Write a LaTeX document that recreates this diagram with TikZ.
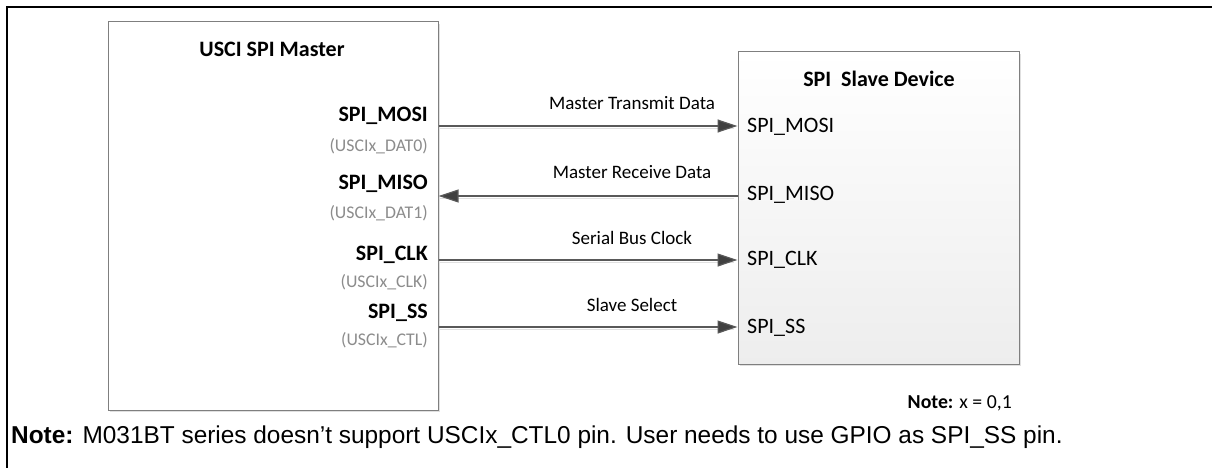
\documentclass[tikz,border=0pt]{standalone}
\usepackage{fontspec}
\setmainfont{Carlito}
\newfontfamily\arialfont{Liberation Sans}
\usetikzlibrary{arrows.meta,shadows}
\definecolor{boxline}{HTML}{7F7F7F}
\definecolor{arrowcol}{HTML}{404040}
\definecolor{pingray}{HTML}{8C8C8C}
\begin{document}
\begin{tikzpicture}[x=1pt,y=-1pt,
  masterbox/.style={draw=boxline,line width=1pt,fill=white,minimum width=330pt,minimum height=388pt,inner sep=0pt,drop shadow={shadow xshift=2pt,shadow yshift=-2pt,fill=black!12,opacity=1}},
  slavebox/.style={draw=boxline,line width=1pt,top color=white,bottom color=black!7,minimum width=281pt,minimum height=312pt,inner sep=0pt,drop shadow={shadow xshift=2pt,shadow yshift=-2pt,fill=black!12,opacity=1}},
  title/.style={font=\fontsize{22}{26}\selectfont\bfseries,inner sep=0pt},
  mpin/.style={font=\fontsize{22}{26}\selectfont\bfseries,anchor=east,inner sep=0pt},
  mpinsub/.style={font=\fontsize{17.8}{21}\selectfont,text=pingray,anchor=east,inner sep=0pt},
  spin/.style={font=\fontsize{22}{26}\selectfont,anchor=west,inner sep=0pt},
  siglabel/.style={font=\fontsize{19}{23}\selectfont,inner sep=0pt},
  sigshadow/.style={draw=black!12,line width=1.5pt,shorten >=4pt},
  sig/.style={draw=black!65,line width=1.2pt,-{Triangle[length=20pt,width=13pt,fill=arrowcol]}},
  sigback/.style={draw=black!65,line width=1.2pt,{Triangle[length=20pt,width=13pt,fill=arrowcol]}-}
]
\useasboundingbox (0,0) rectangle (1212,468);
\fill[white] (0,0) rectangle (1212,468);
% outer frame
\draw[line width=2.5pt,line cap=rect] (7,468) -- (7,7) -- (1212,7);

% boxes
\node[masterbox] (m) at (273,216) {};
\node[slavebox] (s) at (878.5,208) {};

\node[title] (mt) at (272,49) {USCI SPI Master};
\node[title] (st) at (879,79) {SPI\ \ Slave Device};

% master pins
\node[mpin] (mmosi) at (428,116) {SPI\_MOSI};
\node[mpinsub] (mdat0) at (428,146) {(USCIx\_DAT0)};
\node[mpin] (mmiso) at (428,184) {SPI\_MISO};
\node[mpinsub] (mdat1) at (428,213) {(USCIx\_DAT1)};
\node[mpin] (mclk) at (428,255) {SPI\_CLK};
\node[mpinsub] (mclks) at (428,282) {(USCIx\_CLK)};
\node[mpin] (mss) at (428,313) {SPI\_SS};
\node[mpinsub] (mctl) at (428,340) {(USCIx\_CTL)};

% slave pins
\node[spin] (smosi) at (747,127) {SPI\_MOSI};
\node[spin] (smiso) at (747,195) {SPI\_MISO};
\node[spin] (sclk) at (747,260) {SPI\_CLK};
\node[spin] (sss) at (747,328) {SPI\_SS};

% signals
\coordinate (ymosi) at (0,126);
\coordinate (ymiso) at (0,196);
\coordinate (yclk) at (0,260);
\coordinate (yss) at (0,327);
\coordinate (ymosis) at (0,128.5);
\coordinate (ymisos) at (0,198.5);
\coordinate (yclks) at (0,262.5);
\coordinate (ysss) at (0,329.5);
\draw[sigshadow] (m.east |- ymosis) -- (s.west |- ymosis);
\draw[sigshadow] (m.east |- ymisos) -- (s.west |- ymisos);
\draw[sigshadow] (m.east |- yclks) -- (s.west |- yclks);
\draw[sigshadow] (m.east |- ysss) -- (s.west |- ysss);
\draw[sig] (m.east |- ymosi) -- (s.west |- ymosi);
\draw[sigback] (m.east |- ymiso) -- (s.west |- ymiso);
\draw[sig] (m.east |- yclk) -- (s.west |- yclk);
\draw[sig] (m.east |- yss) -- (s.west |- yss);

\node[siglabel] (l1) at (632,103) {Master Transmit Data};
\node[siglabel] (l2) at (632,172) {Master Receive Data};
\node[siglabel] (l3) at (632,238) {Serial Bus Clock};
\node[siglabel] (l4) at (632,305) {Slave Select};

% notes
\node[font=\fontsize{19.8}{23}\selectfont,anchor=east,inner sep=0pt] (n1) at (1012,403) {\textbf{Note:} x = 0,1};
\node[font=\arialfont\fontsize{24.4}{28}\selectfont,anchor=west,inner sep=0pt] (n2) at (11,437) {\textbf{Note:} M031BT series doesn’t support USCIx\_CTL0 pin. User needs to use GPIO as SPI\_SS pin.};
\end{tikzpicture}
\end{document}
